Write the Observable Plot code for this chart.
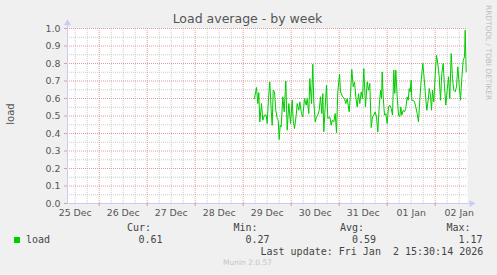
<!DOCTYPE html>
<html><head><meta charset="utf-8">
<script src="https://cdn.jsdelivr.net/npm/d3@7"></script>
<script src="https://cdn.jsdelivr.net/npm/@observablehq/plot@0.6"></script>
<style>
body{margin:0;background:#f0f0f0;}
#wrap{position:relative;width:497px;height:275px;background:#f0f0f0;overflow:hidden;font-family:"DejaVu Sans",sans-serif;}
#wrap svg{position:absolute;left:0;top:0;}
.abs{position:absolute;white-space:pre;}
.mono{font-family:"DejaVu Sans Mono",monospace;font-size:10px;line-height:10px;color:#444;}
</style></head><body><div id="wrap"></div>
<script>
// ---- data ----
const times = [
"2025-12-29T05:39Z","2025-12-29T06:39Z","2025-12-29T07:18Z","2025-12-29T07:48Z","2025-12-29T08:18Z","2025-12-29T09:09Z","2025-12-29T09:48Z","2025-12-29T10:39Z","2025-12-29T11:30Z","2025-12-29T12:00Z",
"2025-12-29T12:39Z","2025-12-29T13:18Z","2025-12-29T14:00Z","2025-12-29T14:30Z","2025-12-29T15:00Z","2025-12-29T15:39Z","2025-12-29T16:18Z","2025-12-29T17:00Z","2025-12-29T17:30Z","2025-12-29T18:00Z",
"2025-12-29T18:30Z","2025-12-29T19:00Z","2025-12-29T19:48Z","2025-12-29T20:30Z","2025-12-29T21:18Z","2025-12-29T22:00Z","2025-12-29T22:48Z","2025-12-29T23:39Z","2025-12-30T00:30Z","2025-12-30T01:00Z",
"2025-12-30T01:39Z","2025-12-30T02:30Z","2025-12-30T03:00Z","2025-12-30T03:48Z","2025-12-30T04:18Z","2025-12-30T05:09Z","2025-12-30T05:48Z","2025-12-30T06:39Z","2025-12-30T07:30Z","2025-12-30T08:00Z",
"2025-12-30T08:48Z","2025-12-30T09:18Z","2025-12-30T10:09Z","2025-12-30T10:48Z","2025-12-30T11:18Z","2025-12-30T12:00Z","2025-12-30T12:39Z","2025-12-30T13:18Z","2025-12-30T14:00Z","2025-12-30T14:39Z",
"2025-12-30T15:18Z","2025-12-30T15:48Z","2025-12-30T16:18Z","2025-12-30T17:00Z","2025-12-30T17:39Z","2025-12-30T18:18Z","2025-12-30T19:18Z","2025-12-30T20:00Z","2025-12-30T20:30Z","2025-12-30T21:18Z",
"2025-12-30T22:00Z","2025-12-30T22:39Z","2025-12-30T23:18Z","2025-12-31T00:09Z","2025-12-31T00:39Z","2025-12-31T01:39Z","2025-12-31T02:39Z","2025-12-31T03:18Z","2025-12-31T04:00Z","2025-12-31T05:00Z",
"2025-12-31T05:39Z","2025-12-31T06:18Z","2025-12-31T07:00Z","2025-12-31T07:39Z","2025-12-31T08:18Z","2025-12-31T09:00Z","2025-12-31T09:39Z","2025-12-31T10:18Z","2025-12-31T11:00Z","2025-12-31T11:39Z",
"2025-12-31T12:18Z","2025-12-31T13:09Z","2025-12-31T14:00Z","2025-12-31T14:39Z","2025-12-31T15:18Z","2025-12-31T16:00Z","2025-12-31T16:39Z","2025-12-31T17:18Z","2025-12-31T18:00Z","2025-12-31T18:39Z",
"2025-12-31T19:18Z","2025-12-31T20:00Z","2025-12-31T20:39Z","2025-12-31T21:09Z","2025-12-31T21:30Z","2025-12-31T22:00Z","2025-12-31T22:39Z","2025-12-31T23:18Z","2026-01-01T00:00Z","2026-01-01T00:39Z",
"2026-01-01T01:18Z","2026-01-01T02:00Z","2026-01-01T02:39Z","2026-01-01T03:18Z","2026-01-01T03:48Z","2026-01-01T04:18Z","2026-01-01T05:00Z","2026-01-01T05:39Z","2026-01-01T06:18Z","2026-01-01T06:48Z",
"2026-01-01T07:18Z","2026-01-01T08:00Z","2026-01-01T08:39Z","2026-01-01T09:18Z","2026-01-01T10:00Z","2026-01-01T10:30Z","2026-01-01T11:00Z","2026-01-01T11:30Z","2026-01-01T12:00Z","2026-01-01T12:18Z",
"2026-01-01T13:00Z","2026-01-01T13:39Z","2026-01-01T14:18Z","2026-01-01T15:00Z","2026-01-01T15:39Z","2026-01-01T16:18Z","2026-01-01T17:00Z","2026-01-01T17:48Z","2026-01-01T18:30Z","2026-01-01T19:09Z",
"2026-01-01T19:48Z","2026-01-01T20:30Z","2026-01-01T21:00Z","2026-01-01T21:39Z","2026-01-01T22:09Z","2026-01-01T22:39Z","2026-01-01T23:18Z","2026-01-02T00:00Z","2026-01-02T00:39Z","2026-01-02T01:18Z",
"2026-01-02T02:00Z","2026-01-02T02:39Z","2026-01-02T03:18Z","2026-01-02T04:00Z","2026-01-02T04:39Z","2026-01-02T05:18Z","2026-01-02T06:00Z","2026-01-02T06:39Z","2026-01-02T07:18Z","2026-01-02T08:00Z",
"2026-01-02T08:39Z","2026-01-02T09:18Z","2026-01-02T10:00Z","2026-01-02T10:39Z","2026-01-02T11:18Z","2026-01-02T12:00Z","2026-01-02T12:39Z","2026-01-02T13:18Z","2026-01-02T14:00Z","2026-01-02T14:39Z",
"2026-01-02T15:00Z","2026-01-02T15:30Z"
];
const loadValues = [
0.60,0.663,0.571,0.634,0.466,0.571,0.476,0.505,0.505,0.457,
0.60,0.695,0.533,0.447,0.648,0.638,0.533,0.486,0.476,0.366,
0.447,0.438,0.61,0.524,0.70,0.419,0.571,0.457,0.59,0.476,
0.428,0.505,0.571,0.533,0.581,0.514,0.495,0.60,0.562,0.60,
0.514,0.714,0.571,0.796,0.581,0.466,0.495,0.505,0.533,0.61,
0.514,0.628,0.41,0.552,0.676,0.486,0.495,0.447,0.476,0.466,
0.514,0.404,0.638,0.739,0.638,0.61,0.60,0.571,0.60,0.524,
0.628,0.766,0.667,0.695,0.61,0.552,0.628,0.571,0.638,0.60,
0.771,0.552,0.695,0.647,0.686,0.434,0.495,0.505,0.524,0.495,
0.409,0.552,0.647,0.60,0.752,0.609,0.505,0.514,0.457,0.552,
0.562,0.543,0.505,0.762,0.629,0.762,0.609,0.505,0.495,0.552,
0.505,0.533,0.524,0.543,0.609,0.59,0.657,0.638,0.705,0.59,
0.59,0.581,0.552,0.514,0.466,0.59,0.705,0.80,0.714,0.619,
0.533,0.59,0.657,0.619,0.533,0.647,0.581,0.733,0.847,0.80,
0.724,0.59,0.743,0.80,0.667,0.562,0.647,0.724,0.60,0.857,
0.714,0.647,0.638,0.667,0.781,0.676,0.59,0.714,0.819,0.838,
0.99,0.752
];
const dayTickTimes = ["2025-12-25T12:00Z","2025-12-26T12:00Z","2025-12-27T12:00Z","2025-12-28T12:00Z","2025-12-29T12:00Z","2025-12-30T12:00Z","2025-12-31T12:00Z","2026-01-01T12:00Z","2026-01-02T12:00Z"];
const dayLabels = ["25 Dec","26 Dec","27 Dec","28 Dec","29 Dec","30 Dec","31 Dec","01 Jan","02 Jan"];
const yTicks = [0,0.1,0.2,0.3,0.4,0.5,0.6,0.7,0.8,0.9,1.0];
const titleText = "Load average - by week";
const yLabel = "load";
const seriesName = "load";
const statLabels = ["Cur:","Min:","Avg:","Max:"];
const statValues = ["0.61","0.27","0.59","1.17"];
const lastUpdate = "Last update: Fri Jan  2 15:30:14 2026";
const sideText = "RRDTOOL / TOBI OETIKER";
const footerText = "Munin 2.0.57";

// ---- build ----
const data = times.map((t,i) => ({t: new Date(t), v: loadValues[i]}));
const x0 = new Date("2025-12-25T08:09Z"), x1 = new Date("2026-01-02T16:09Z");
const allHours6 = d3.utcHour.every(6).range(x0, x1);
const majorX = allHours6.filter(d => d.getUTCHours() === 0);
const minorX = allHours6.filter(d => d.getUTCHours() !== 0);
const minorY = yTicks.slice(0,-1).map(d => d + 0.05);
const labelTicks = dayTickTimes.map(s => new Date(s));
const labelMap = new Map(labelTicks.map((d,i) => [+d, dayLabels[i]]));
const axisCol = "#c6ccf2";
const redGrid = "#e39a9a";
const grayGrid = "#cccccc";

const chart = Plot.plot({
  width: 497, height: 275,
  marginLeft: 67, marginRight: 30, marginTop: 28, marginBottom: 72,
  x: {type: "utc", domain: [x0, x1]},
  y: {domain: [0, 1]},
  style: {background: "transparent", fontFamily: "DejaVu Sans", fontSize: "9.4px", color: "#555", overflow: "visible"},
  marks: [
    Plot.frame({fill: "white", stroke: null}),
    Plot.ruleX(minorX, {stroke: grayGrid, strokeDasharray: "1,1"}),
    Plot.ruleY(minorY, {stroke: grayGrid, strokeDasharray: "1,1"}),
    Plot.ruleX(majorX, {stroke: redGrid, strokeDasharray: "1,1"}),
    Plot.ruleY(yTicks.slice(1), {stroke: redGrid, strokeDasharray: "1,1"}),
    Plot.ruleX([x0], {y1: 0, y2: 1.03, stroke: axisCol}),
    Plot.ruleY([0], {x1: x0, x2: d3.utcHour.offset(x1, 1), stroke: axisCol}),
    Plot.dot([{x: x0, y: 1.03}], {x: "x", y: "y", symbol: "triangle", r: 2.6, fill: axisCol, stroke: null}),
    Plot.dot([{x: d3.utcHour.offset(x1, 2), y: 0}], {x: "x", y: "y", symbol: "triangle", r: 2.6, rotate: 90, fill: axisCol, stroke: null}),
    Plot.line(data, {x: "t", y: "v", stroke: "#00cc00", strokeWidth: 1}),
    Plot.axisY({ticks: yTicks, tickFormat: d3.format(".1f"), tickSize: 3, tickPadding: 4, stroke: redGrid, label: null}),
    Plot.axisX({ticks: labelTicks, tickFormat: d => labelMap.get(+d), tickSize: 0, tickPadding: 6, label: null}),
    Plot.axisX({ticks: majorX, tickFormat: () => "", tickSize: 3, stroke: redGrid, label: null})
  ]
});
const wrap = document.getElementById("wrap");
wrap.appendChild(chart);

function addText(txt, css, cls) {
  const d = document.createElement("div");
  d.className = "abs" + (cls ? " " + cls : "");
  d.textContent = txt;
  Object.assign(d.style, css);
  wrap.appendChild(d);
  return d;
}
addText(titleText, {left: "0px", width: "495px", textAlign: "center", top: "12px", fontSize: "12.5px", lineHeight: "13px", color: "#555"});
addText(yLabel, {left: "11px", top: "114px", fontSize: "10px", lineHeight: "10px", color: "#555", transform: "translate(-50%,-50%) rotate(-90deg)"});
addText(sideText, {left: "484px", top: "5px", fontSize: "7.4px", lineHeight: "8px", color: "#bdbdbd", writingMode: "vertical-rl"});
addText(footerText, {left: "0px", width: "495px", textAlign: "center", top: "259px", fontSize: "7.5px", lineHeight: "8px", color: "#c4c4c4"});
// legend
const sq = document.createElement("div");
Object.assign(sq.style, {position: "absolute", left: "14px", top: "237px", width: "6px", height: "6px", background: "#00cc00"});
wrap.appendChild(sq);
addText(seriesName, {left: "26px", top: "234.5px"}, "mono");
const labelLeft = [127, 233.5, 340, 446.5];
const valueLeft = [138.5, 245.5, 352, 458.5];
statLabels.forEach((s, i) => addText(s, {left: labelLeft[i] + "px", top: "222.5px"}, "mono"));
statValues.forEach((s, i) => addText(s, {left: valueLeft[i] + "px", top: "234.5px"}, "mono"));
addText(lastUpdate, {left: "260.5px", top: "246.5px"}, "mono");
</script>
</body></html>
